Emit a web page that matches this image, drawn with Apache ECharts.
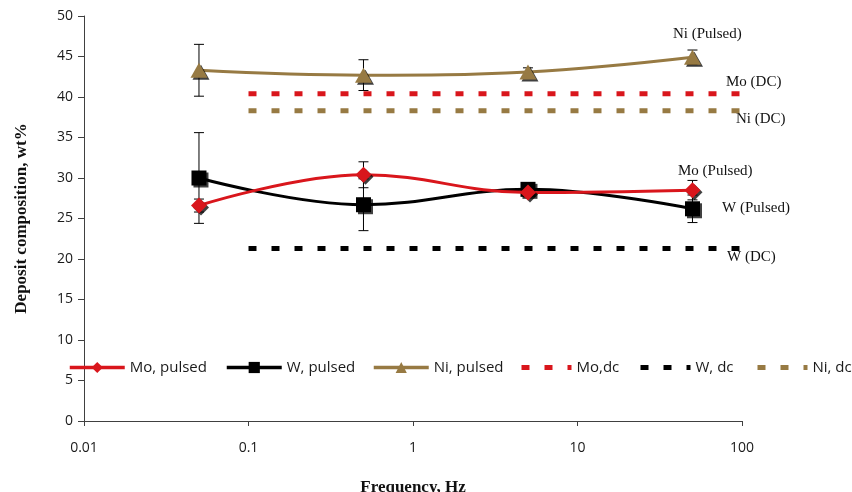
<!DOCTYPE html>
<html>
<head>
<meta charset="utf-8">
<script src="https://cdn.jsdelivr.net/npm/echarts@6/dist/echarts.min.js"></script>
<style>html,body{margin:0;padding:0;background:#fff}#c{width:852px;height:492px}</style>
</head>
<body>
<div id="c"></div>
<script>
// ---- data ----
const freq = [0.05, 0.5, 5, 50];
const moPulsed = [26.6, 30.4, 28.2, 28.5];
const wPulsed = [30.0, 26.7, 28.6, 26.2];
const niPulsed = [43.3, 42.7, 43.1, 44.9];
const moErr = [0.8, 1.6, 0.5, 1.2];
const wErr = [5.6, 3.2, 0.5, 1.7];
const niErr = [3.2, 1.9, 0.5, 0.9];
const dcFreq = [0.1, 100];
const moDC = [40.4, 40.4];
const wDC = [21.3, 21.3];
const niDC = [38.3, 38.3];
const xTickLabels = ['0.01', '0.1', '1', '10', '100'];
const seriesNames = ['Mo, pulsed', 'W, pulsed', 'Ni, pulsed', 'Mo,dc', 'W, dc', 'Ni, dc'];
const annotations = ['Ni (Pulsed)', 'Mo (DC)', 'Ni (DC)', 'Mo (Pulsed)', 'W (Pulsed)', 'W (DC)'];

const RED = '#d9161c', BLK = '#000000', BRN = '#977a43';

function pairs(xs, ys) { return xs.map((x, i) => [x, ys[i]]); }
function errData(ys, es) { return freq.map((x, i) => [x, ys[i] - es[i], ys[i] + es[i]]); }

const errRender = function (params, api) {
  const x = api.value(0);
  const lo = api.coord([x, api.value(1)]);
  const hi = api.coord([x, api.value(2)]);
  const w = 5;
  const st = { stroke: '#000', lineWidth: 1 };
  return {
    type: 'group',
    children: [
      { type: 'line', shape: { x1: lo[0], y1: lo[1], x2: hi[0], y2: hi[1] }, style: st },
      { type: 'line', shape: { x1: lo[0] - w, y1: lo[1], x2: lo[0] + w, y2: lo[1] }, style: st },
      { type: 'line', shape: { x1: hi[0] - w, y1: hi[1], x2: hi[0] + w, y2: hi[1] }, style: st }
    ]
  };
};

const shadow = { shadowColor: 'rgba(0,0,0,0.75)', shadowOffsetX: 2, shadowOffsetY: 2, shadowBlur: 0 };

const legendLefts = [68, 225, 372, 519, 638, 755];
const legendWidths = [55, 55, 55, 50, 50, 50];
const legendTextStyle = { fontFamily: 'Open Sans', fontSize: 15, color: '#1a1a1a' };

const chart = echarts.init(document.getElementById('c'), null, { renderer: 'canvas' });
const option = {
  animation: false,
  backgroundColor: '#fff',
  grid: { left: 84, right: 110, top: 16, bottom: 71, containLabel: false, outerBoundsMode: 'none' },
  legend: seriesNames.map((n, i) => ({
    data: [n], left: legendLefts[i], top: 360, itemWidth: legendWidths[i], itemHeight: 14, itemGap: 0,
    textStyle: legendTextStyle, selectedMode: false, padding: 0,
    lineStyle: { width: i < 3 ? 3.5 : 5 },
    itemStyle: i < 3 ? {} : { opacity: 0 }
  })),
  xAxis: {
    type: 'log', logBase: 10, min: 0.01, max: 100,
    axisLine: { lineStyle: { color: '#404040', width: 1 } },
    axisTick: { show: true, length: 5, lineStyle: { color: '#404040' } },
    minorTick: { show: false },
    splitLine: { show: false },
    axisLabel: {
      fontFamily: 'Open Sans', fontSize: 14, color: '#1a1a1a', margin: 20,
      formatter: function (v) { const k = Math.round(Math.log10(v)) + 2; return xTickLabels[k] || ''; }
    },
    name: 'Frequency, Hz', nameLocation: 'middle', nameGap: 58,
    nameTextStyle: { fontFamily: 'Liberation Serif', fontWeight: 'bold', fontSize: 17, color: '#111' }
  },
  yAxis: {
    type: 'value', min: 0, max: 50, interval: 5,
    axisLine: { show: true, lineStyle: { color: '#404040', width: 1 } },
    axisTick: { show: true, length: 6, lineStyle: { color: '#404040' } },
    splitLine: { show: false },
    axisLabel: { fontFamily: 'Open Sans', fontSize: 14, color: '#1a1a1a', margin: 11 },
    name: 'Deposit composition, wt%', nameLocation: 'middle', nameGap: 54,
    nameTextStyle: { fontFamily: 'Liberation Serif', fontWeight: 'bold', fontSize: 17, color: '#111' }
  },
  series: [
    { type: 'custom', name: 'errW', renderItem: errRender, data: errData(wPulsed, wErr), z: 1, silent: true, encode: { x: 0, y: [1, 2] } },
    { type: 'custom', name: 'errMo', renderItem: errRender, data: errData(moPulsed, moErr), z: 1, silent: true, encode: { x: 0, y: [1, 2] } },
    { type: 'custom', name: 'errNi', renderItem: errRender, data: errData(niPulsed, niErr), z: 1, silent: true, encode: { x: 0, y: [1, 2] } },
    { type: 'line', name: 'Mo,dc', data: pairs(dcFreq, moDC), symbol: 'none', z: 2,
      lineStyle: { color: RED, width: 5, type: [8, 15] }, itemStyle: { color: RED } },
    { type: 'line', name: 'Ni, dc', data: pairs(dcFreq, niDC), symbol: 'none', z: 2,
      lineStyle: { color: BRN, width: 5, type: [8, 15] }, itemStyle: { color: BRN } },
    { type: 'line', name: 'W, dc', data: pairs(dcFreq, wDC), symbol: 'none', z: 2,
      lineStyle: { color: BLK, width: 5, type: [8, 15] }, itemStyle: { color: BLK } },
    { type: 'line', name: 'Ni, pulsed', data: pairs(freq, niPulsed), smooth: 0.4, z: 3,
      symbol: 'triangle', symbolSize: [17, 15], lineStyle: { color: BRN, width: 3 },
      itemStyle: Object.assign({ color: BRN }, shadow) },
    { type: 'line', name: 'W, pulsed', data: pairs(freq, wPulsed), smooth: 0.4, z: 4,
      symbol: 'rect', symbolSize: 15, lineStyle: { color: BLK, width: 3 },
      itemStyle: Object.assign({ color: BLK }, shadow) },
    { type: 'line', name: 'Mo, pulsed', data: pairs(freq, moPulsed), smooth: 0.4, z: 5,
      symbol: 'diamond', symbolSize: 16, lineStyle: { color: RED, width: 3 },
      itemStyle: Object.assign({ color: RED }, shadow) }
  ],
  graphic: [
    { type: 'text', left: 673, top: 27, style: { text: annotations[0], font: '15px "Liberation Serif"', fill: '#111' } },
    { type: 'text', left: 726, top: 75, style: { text: annotations[1], font: '15px "Liberation Serif"', fill: '#111' } },
    { type: 'text', left: 736, top: 112, style: { text: annotations[2], font: '15px "Liberation Serif"', fill: '#111' } },
    { type: 'text', left: 678, top: 164, style: { text: annotations[3], font: '15px "Liberation Serif"', fill: '#111' } },
    { type: 'text', left: 722, top: 201, style: { text: annotations[4], font: '15px "Liberation Serif"', fill: '#111' } },
    { type: 'text', left: 727, top: 250, style: { text: annotations[5], font: '15px "Liberation Serif"', fill: '#111' } }
  ]
};
chart.setOption(option);
</script>
</body>
</html>
